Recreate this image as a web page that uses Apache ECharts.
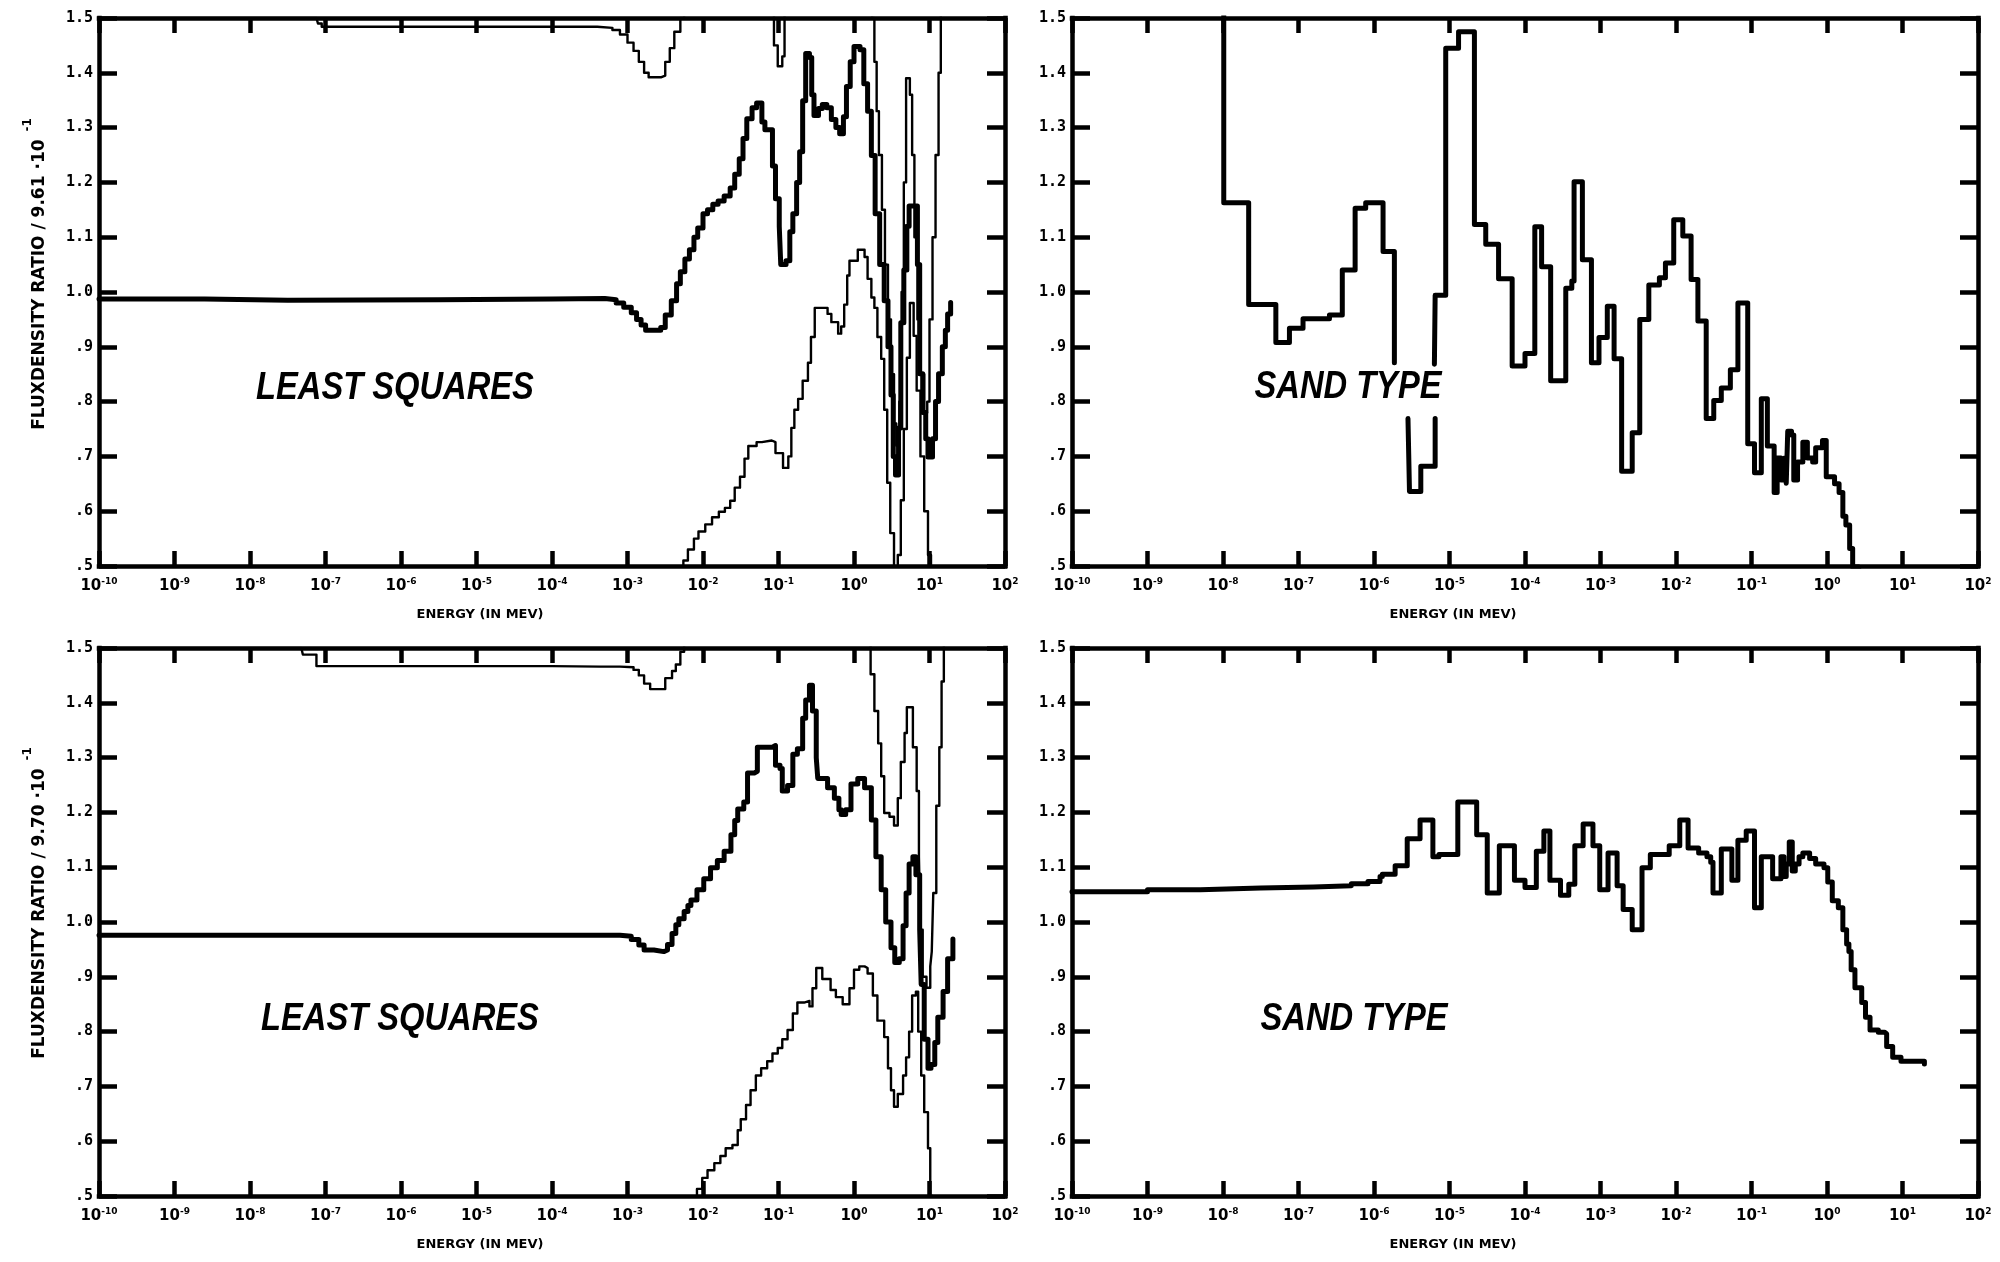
<!DOCTYPE html>
<html>
<head>
<meta charset="utf-8">
<script src="https://cdn.jsdelivr.net/npm/echarts@6/dist/echarts.min.js"></script>
<style>
  html, body { margin: 0; padding: 0; background: #ffffff; }
  #chart { width: 2000px; height: 1262px; }
</style>
</head>
<body>
<div id="chart"></div>
<script>
// Each point is [log10(energy in MeV), flux density ratio]; points mark the start of each group bin.

// Least squares, normalised to 9.61e-1: solution and its upper / lower bounds
const tlRatio = [
  [-10, 0.987], [-8.6, 0.985], [-7.5, 0.986], [-5.5, 0.987], [-4.0, 0.988], [-3.3, 0.986],
  [-3.15, 0.980], [-3.05, 0.972], [-2.95, 0.962], [-2.88, 0.950], [-2.82, 0.940], [-2.76, 0.930],
  [-2.56, 0.935], [-2.50, 0.958], [-2.42, 0.984], [-2.35, 1.015], [-2.30, 1.037], [-2.24, 1.060],
  [-2.18, 1.077], [-2.12, 1.100], [-2.07, 1.117], [-2.00, 1.143], [-1.94, 1.150], [-1.87, 1.160],
  [-1.80, 1.166], [-1.72, 1.175], [-1.64, 1.190], [-1.58, 1.215], [-1.52, 1.243], [-1.47, 1.280],
  [-1.42, 1.316], [-1.35, 1.336], [-1.29, 1.345], [-1.22, 1.310], [-1.18, 1.296], [-1.08, 1.230],
  [-1.04, 1.170], [-0.99, 1.120], [-0.97, 1.050], [-0.90, 1.057], [-0.85, 1.110], [-0.81, 1.143],
  [-0.76, 1.200], [-0.72, 1.256], [-0.68, 1.349], [-0.64, 1.435], [-0.59, 1.428], [-0.56, 1.360],
  [-0.53, 1.322], [-0.47, 1.335], [-0.42, 1.342], [-0.36, 1.336], [-0.30, 1.315], [-0.24, 1.300],
  [-0.19, 1.289], [-0.14, 1.320], [-0.10, 1.375], [-0.05, 1.420], [0.00, 1.448], [0.08, 1.442],
  [0.13, 1.380], [0.18, 1.330], [0.23, 1.249], [0.28, 1.143], [0.34, 1.050], [0.40, 0.984],
  [0.45, 0.900], [0.49, 0.812], [0.52, 0.700], [0.55, 0.666], [0.59, 0.752], [0.62, 0.944],
  [0.66, 1.040], [0.70, 1.120], [0.73, 1.157], [0.84, 1.050], [0.87, 0.851], [0.91, 0.780],
  [0.95, 0.732], [0.98, 0.699], [1.04, 0.732], [1.08, 0.800], [1.12, 0.851], [1.17, 0.900],
  [1.21, 0.930], [1.24, 0.960], [1.28, 0.981]
];
const tlUpper = [
  [-10, 1.5], [-7.12, 1.5], [-7.10, 1.490], [-7.05, 1.484], [-4.0, 1.484], [-3.4, 1.482],
  [-3.2, 1.478], [-3.1, 1.470], [-3.0, 1.455], [-2.92, 1.440], [-2.85, 1.420], [-2.78, 1.400],
  [-2.72, 1.392], [-2.55, 1.395], [-2.50, 1.420], [-2.44, 1.445], [-2.38, 1.475], [-2.30, 1.500],
  [-2.25, 1.560], [-1.10, 1.560], [-1.06, 1.450], [-1.01, 1.412], [-0.95, 1.430], [-0.92, 1.560],
  [0.20, 1.580], [0.24, 1.500], [0.27, 1.420], [0.30, 1.330], [0.33, 1.250], [0.37, 1.150],
  [0.41, 1.050], [0.45, 0.950], [0.49, 0.850], [0.53, 0.760], [0.56, 0.720], [0.60, 0.800],
  [0.63, 1.000], [0.66, 1.200], [0.69, 1.390], [0.74, 1.360], [0.77, 1.250], [0.80, 1.100],
  [0.84, 0.950], [0.88, 0.850], [0.93, 0.780], [0.97, 0.800], [1.00, 0.950], [1.04, 1.100],
  [1.08, 1.250], [1.12, 1.400], [1.15, 1.550], [1.20, 1.600]
];
const tlLower = [
  [-2.32, 0.48], [-2.26, 0.510], [-2.20, 0.530], [-2.12, 0.550], [-2.06, 0.563], [-1.97, 0.576],
  [-1.88, 0.589], [-1.79, 0.599], [-1.71, 0.606], [-1.64, 0.619], [-1.58, 0.643], [-1.51, 0.663],
  [-1.45, 0.696], [-1.40, 0.719], [-1.29, 0.726], [-1.22, 0.729], [-1.09, 0.726], [-1.04, 0.706],
  [-0.94, 0.679], [-0.87, 0.700], [-0.83, 0.752], [-0.79, 0.785], [-0.74, 0.805], [-0.68, 0.838],
  [-0.61, 0.871], [-0.57, 0.918], [-0.52, 0.971], [-0.35, 0.960], [-0.30, 0.945], [-0.21, 0.924],
  [-0.17, 0.937], [-0.13, 0.977], [-0.09, 1.030], [-0.06, 1.057], [0.05, 1.077], [0.14, 1.064],
  [0.18, 1.024], [0.23, 0.990], [0.27, 0.971], [0.31, 0.918], [0.36, 0.878], [0.40, 0.785],
  [0.44, 0.652], [0.48, 0.560], [0.53, 0.470], [0.58, 0.520], [0.62, 0.620], [0.66, 0.750],
  [0.70, 0.880], [0.74, 0.980], [0.79, 0.920], [0.83, 0.820], [0.88, 0.700], [0.93, 0.600],
  [0.98, 0.520], [1.02, 0.440]
];

// Sand type, normalised to 9.61e-1 (null = pen lifted)
const trSand = [
  [-8.3, 1.62], [-7.99, 1.163], [-7.66, 0.977], [-7.30, 0.908], [-7.12, 0.934], [-6.94, 0.951],
  [-6.59, 0.958], [-6.42, 1.040], [-6.25, 1.153], [-6.11, 1.163], [-5.88, 1.074], [-5.73, 0.871],
  null,
  [-5.55, 0.769], [-5.53, 0.636], [-5.38, 0.682], [-5.19, 0.769],
  null,
  [-5.20, 0.868], [-5.19, 0.994], [-5.05, 1.445], [-4.88, 1.475], [-4.67, 1.123], [-4.52, 1.087],
  [-4.35, 1.024], [-4.17, 0.865], [-4.00, 0.888], [-3.87, 1.119], [-3.78, 1.046], [-3.66, 0.838],
  [-3.46, 1.007], [-3.38, 1.020], [-3.35, 1.201], [-3.24, 1.059], [-3.12, 0.871], [-3.02, 0.917],
  [-2.91, 0.974], [-2.82, 0.878], [-2.72, 0.673], [-2.58, 0.743], [-2.48, 0.950], [-2.36, 1.013],
  [-2.22, 1.026], [-2.14, 1.053], [-2.03, 1.132], [-1.91, 1.102], [-1.80, 1.023], [-1.71, 0.947],
  [-1.60, 0.769], [-1.50, 0.802], [-1.40, 0.825], [-1.28, 0.858], [-1.18, 0.980], [-1.05, 0.723],
  [-0.96, 0.670], [-0.87, 0.805], [-0.79, 0.719], [-0.70, 0.634], [-0.66, 0.697], [-0.61, 0.657],
  [-0.56, 0.697], [-0.54, 0.651], [-0.52, 0.746], [-0.47, 0.739], [-0.44, 0.657], [-0.39, 0.690],
  [-0.32, 0.726], [-0.26, 0.697], [-0.19, 0.690], [-0.15, 0.716], [-0.06, 0.729], [-0.01, 0.663],
  [0.10, 0.650], [0.16, 0.634], [0.21, 0.591], [0.25, 0.575], [0.30, 0.532], [0.34, 0.498],
  [0.42, 0.460]
];

// Least squares, normalised to 9.70e-1: solution and its upper / lower bounds
const blRatio = [
  [-10, 0.976], [-8, 0.976], [-6, 0.976], [-4, 0.976], [-3.36, 0.976], [-3.1, 0.974],
  [-2.95, 0.968], [-2.85, 0.958], [-2.78, 0.949], [-2.65, 0.946], [-2.52, 0.949], [-2.47, 0.959],
  [-2.41, 0.979], [-2.36, 0.995], [-2.32, 1.006], [-2.25, 1.019], [-2.20, 1.030], [-2.16, 1.040],
  [-2.08, 1.059], [-1.99, 1.079], [-1.90, 1.099], [-1.81, 1.112], [-1.72, 1.129], [-1.63, 1.159],
  [-1.58, 1.185], [-1.54, 1.206], [-1.46, 1.219], [-1.41, 1.272], [-1.32, 1.275], [-1.28, 1.319],
  [-1.08, 1.322], [-1.04, 1.286], [-0.98, 1.280], [-0.95, 1.239], [-0.88, 1.249], [-0.81, 1.306],
  [-0.75, 1.316], [-0.68, 1.372], [-0.64, 1.405], [-0.59, 1.432], [-0.55, 1.385], [-0.50, 1.300],
  [-0.48, 1.262], [-0.35, 1.245], [-0.26, 1.226], [-0.20, 1.205], [-0.17, 1.196], [-0.11, 1.205],
  [-0.04, 1.252], [0.05, 1.262], [0.14, 1.245], [0.23, 1.186], [0.29, 1.119], [0.36, 1.059],
  [0.42, 1.000], [0.49, 0.953], [0.54, 0.926], [0.60, 0.933], [0.65, 0.993], [0.69, 1.053],
  [0.73, 1.106], [0.78, 1.119], [0.82, 1.086], [0.87, 0.986], [0.89, 0.886], [0.93, 0.786],
  [0.98, 0.733], [1.02, 0.740], [1.07, 0.780], [1.11, 0.826], [1.18, 0.873], [1.24, 0.933],
  [1.31, 0.969]
];
const blUpper = [
  [-10, 1.5], [-7.32, 1.5], [-7.30, 1.488], [-7.15, 1.488], [-7.12, 1.467], [-4.0, 1.466],
  [-3.36, 1.466], [-3.1, 1.465], [-2.92, 1.460], [-2.85, 1.450], [-2.78, 1.435], [-2.70, 1.425],
  [-2.55, 1.425], [-2.50, 1.445], [-2.41, 1.458], [-2.36, 1.470], [-2.30, 1.493], [-2.25, 1.560],
  [0.16, 1.560], [0.22, 1.452], [0.27, 1.385], [0.32, 1.326], [0.36, 1.266], [0.40, 1.199],
  [0.47, 1.192], [0.53, 1.176], [0.58, 1.226], [0.62, 1.292], [0.67, 1.345], [0.70, 1.392],
  [0.78, 1.319], [0.83, 1.239], [0.86, 1.119], [0.88, 0.986], [0.91, 0.900], [0.96, 0.880],
  [1.01, 0.919], [1.03, 0.946], [1.05, 1.053], [1.09, 1.212], [1.13, 1.319], [1.16, 1.439],
  [1.19, 1.550]
];
const blLower = [
  [-2.16, 0.490], [-2.08, 0.513], [-2.01, 0.533], [-1.94, 0.547], [-1.85, 0.560], [-1.77, 0.573],
  [-1.70, 0.587], [-1.61, 0.593], [-1.54, 0.620], [-1.50, 0.640], [-1.43, 0.666], [-1.37, 0.693],
  [-1.30, 0.720], [-1.23, 0.733], [-1.15, 0.746], [-1.08, 0.760], [-1.01, 0.770], [-0.95, 0.786],
  [-0.88, 0.803], [-0.81, 0.833], [-0.75, 0.853], [-0.66, 0.856], [-0.59, 0.846], [-0.55, 0.879],
  [-0.50, 0.916], [-0.42, 0.896], [-0.31, 0.876], [-0.24, 0.863], [-0.15, 0.850], [-0.06, 0.879],
  [0.00, 0.913], [0.07, 0.919], [0.14, 0.916], [0.18, 0.906], [0.25, 0.866], [0.31, 0.820],
  [0.40, 0.790], [0.45, 0.733], [0.49, 0.693], [0.53, 0.663], [0.58, 0.686], [0.65, 0.720],
  [0.69, 0.753], [0.73, 0.800], [0.77, 0.866], [0.82, 0.873], [0.85, 0.800], [0.89, 0.720],
  [0.93, 0.653], [0.98, 0.587], [1.01, 0.500], [1.04, 0.450]
];

// Sand type, normalised to 9.70e-1
const brSand = [
  [-10, 1.055], [-9.0, 1.059], [-8.3, 1.062], [-7.5, 1.064], [-6.8, 1.066], [-6.3, 1.070],
  [-6.08, 1.074], [-5.92, 1.083], [-5.89, 1.087], [-5.72, 1.1025], [-5.56, 1.152], [-5.39, 1.186],
  [-5.22, 1.119], [-5.14, 1.123], [-4.89, 1.219], [-4.64, 1.159], [-4.50, 1.053], [-4.34, 1.139],
  [-4.14, 1.076], [-4.00, 1.063], [-3.85, 1.129], [-3.75, 1.166], [-3.67, 1.076], [-3.53, 1.049],
  [-3.42, 1.069], [-3.34, 1.139], [-3.23, 1.179], [-3.10, 1.139], [-3.01, 1.059], [-2.90, 1.126],
  [-2.78, 1.066], [-2.70, 1.023], [-2.58, 0.986], [-2.45, 1.099], [-2.34, 1.123], [-2.09, 1.139],
  [-1.95, 1.186], [-1.84, 1.135], [-1.70, 1.126], [-1.59, 1.119], [-1.54, 1.109], [-1.51, 1.053],
  [-1.40, 1.133], [-1.26, 1.076], [-1.18, 1.149], [-1.07, 1.166], [-0.96, 1.026], [-0.87, 1.119],
  [-0.72, 1.079], [-0.61, 1.119], [-0.57, 1.083], [-0.54, 1.106], [-0.50, 1.146], [-0.46, 1.093],
  [-0.42, 1.106], [-0.37, 1.119], [-0.32, 1.126], [-0.23, 1.116], [-0.15, 1.106], [-0.04, 1.099],
  [0.01, 1.073], [0.07, 1.039], [0.15, 1.026], [0.21, 0.986], [0.26, 0.960], [0.29, 0.946],
  [0.32, 0.913], [0.37, 0.880], [0.46, 0.853], [0.51, 0.826], [0.57, 0.803], [0.68, 0.799],
  [0.76, 0.796], [0.79, 0.773], [0.87, 0.753], [0.98, 0.746], [1.15, 0.746], [1.29, 0.741]
];

const panelTitles = ['LEAST SQUARES', 'SAND TYPE', 'LEAST SQUARES', 'SAND TYPE'];
const yAxisTitles = ['FLUXDENSITY RATIO / 9.61 \u00b710', 'FLUXDENSITY RATIO / 9.70 \u00b710'];
const yAxisTitleExponent = '-1';
const yTickText = ['.5', '.6', '.7', '.8', '.9', '1.0', '1.1', '1.2', '1.3', '1.4', '1.5'];
const xAxisTitle = 'ENERGY (IN MEV)';

// ---- layout ----
const grids = [
  { left: 99,   top: 18,  width: 906, height: 548 },
  { left: 1072, top: 18,  width: 906, height: 548 },
  { left: 99,   top: 648, width: 906, height: 548 },
  { left: 1072, top: 648, width: 906, height: 548 }
];
const INK = '#000000';
const FONT = '"DejaVu Sans", sans-serif';
const MONO = '"DejaVu Sans Mono", monospace';

const frameLine = { show: true, onZero: false, lineStyle: { color: INK, width: 4.5, cap: 'square' } };
const tickStyle = { color: INK, width: 4.5 };

const xAxes = [], yAxes = [];
grids.forEach((g, i) => {
  // bottom axis with decade labels
  xAxes.push({
    gridIndex: i, type: 'value', position: 'bottom', min: -10, max: 2, interval: 1,
    axisLine: frameLine,
    axisTick: { show: true, inside: true, length: 15, lineStyle: tickStyle },
    splitLine: { show: false },
    axisLabel: {
      margin: 11,
      formatter: v => '{b|10}{e|' + v + '}',
      rich: {
        b: { fontFamily: FONT, fontWeight: 'bold', fontSize: 15, color: INK, lineHeight: 17, verticalAlign: 'bottom' },
        e: { fontFamily: FONT, fontWeight: 'bold', fontSize: 9, color: INK, lineHeight: 10, verticalAlign: 'top' }
      }
    },
    name: xAxisTitle, nameLocation: 'middle', nameGap: 42,
    nameTextStyle: { fontFamily: FONT, fontWeight: 'bold', fontSize: 13, color: INK, padding: [0, 144, 0, 0] }
  });
  // top frame edge with inward ticks
  xAxes.push({
    gridIndex: i, type: 'value', position: 'top', min: -10, max: 2, interval: 1,
    axisLine: frameLine,
    axisTick: { show: true, inside: true, length: 15, lineStyle: tickStyle },
    axisLabel: { show: false }, splitLine: { show: false }
  });
  // left axis with ratio labels
  yAxes.push({
    gridIndex: i, type: 'value', position: 'left', min: 0.5, max: 1.5, interval: 0.1,
    axisLine: frameLine,
    axisTick: { show: true, inside: true, length: 18, lineStyle: tickStyle },
    splitLine: { show: false },
    axisLabel: {
      margin: 6, fontFamily: MONO, fontWeight: 'bold', fontSize: 15, color: INK,
      formatter: v => yTickText[Math.round((v - 0.5) * 10)]
    }
  });
  // right frame edge with inward ticks
  yAxes.push({
    gridIndex: i, type: 'value', position: 'right', min: 0.5, max: 1.5, interval: 0.1,
    axisLine: frameLine,
    axisTick: { show: true, inside: true, length: 18, lineStyle: tickStyle },
    axisLabel: { show: false }, splitLine: { show: false }
  });
});

function toSeriesData(points) {
  return points.map(p => (p === null ? ['-', '-'] : [p[0], p[1]]));
}

const curves = [
  { data: tlRatio, panel: 0, width: 5 },
  { data: tlUpper, panel: 0, width: 2.4 },
  { data: tlLower, panel: 0, width: 2.4 },
  { data: trSand,  panel: 1, width: 5 },
  { data: blRatio, panel: 2, width: 5 },
  { data: blUpper, panel: 2, width: 2.4 },
  { data: blLower, panel: 2, width: 2.4 },
  { data: brSand,  panel: 3, width: 5 }
];

const series = curves.map(c => ({
  type: 'line',
  xAxisIndex: c.panel * 2,
  yAxisIndex: c.panel * 2,
  data: toSeriesData(c.data),
  step: 'end',
  showSymbol: false,
  symbol: 'none',
  connectNulls: false,
  clip: true,
  silent: true,
  lineStyle: { color: INK, width: c.width, join: 'round', cap: 'round' }
}));

// in-plot captions and the rotated ratio titles
const captionCenters = [[395, 389], [1348, 388], [400, 1020], [1354, 1020]];
const graphics = panelTitles.map((t, i) => ({
  type: 'text',
  x: captionCenters[i][0], y: captionCenters[i][1],
  scaleX: 0.86,
  style: {
    text: t,
    font: 'italic bold 38px "Liberation Sans", sans-serif',
    fill: INK,
    textAlign: 'center', textVerticalAlign: 'middle',
    align: 'center', verticalAlign: 'middle'
  }
}));
const yTitleCenters = [[35, 274], [35, 903]];
yAxisTitles.forEach((t, i) => {
  graphics.push({
    type: 'text',
    x: yTitleCenters[i][0], y: yTitleCenters[i][1],
    rotation: Math.PI / 2,
    style: {
      text: '{a|' + t + '}{s|' + yAxisTitleExponent + '}',
      rich: {
        a: { fontFamily: FONT, fontWeight: 'bold', fontSize: 17, fill: INK, color: INK, lineHeight: 26, verticalAlign: 'bottom' },
        s: { fontFamily: FONT, fontWeight: 'bold', fontSize: 12, fill: INK, color: INK, lineHeight: 12, verticalAlign: 'top', padding: [0, 0, 0, 8] }
      },
      fill: INK,
      textAlign: 'center', textVerticalAlign: 'middle',
      align: 'center', verticalAlign: 'middle'
    }
  });
});

const chart = echarts.init(document.getElementById('chart'), null, { renderer: 'canvas' });
chart.setOption({
  backgroundColor: '#ffffff',
  animation: false,
  grid: grids.map(g => Object.assign({ containLabel: false }, g)),
  xAxis: xAxes,
  yAxis: yAxes,
  series: series,
  graphic: graphics
});
</script>
</body>
</html>
